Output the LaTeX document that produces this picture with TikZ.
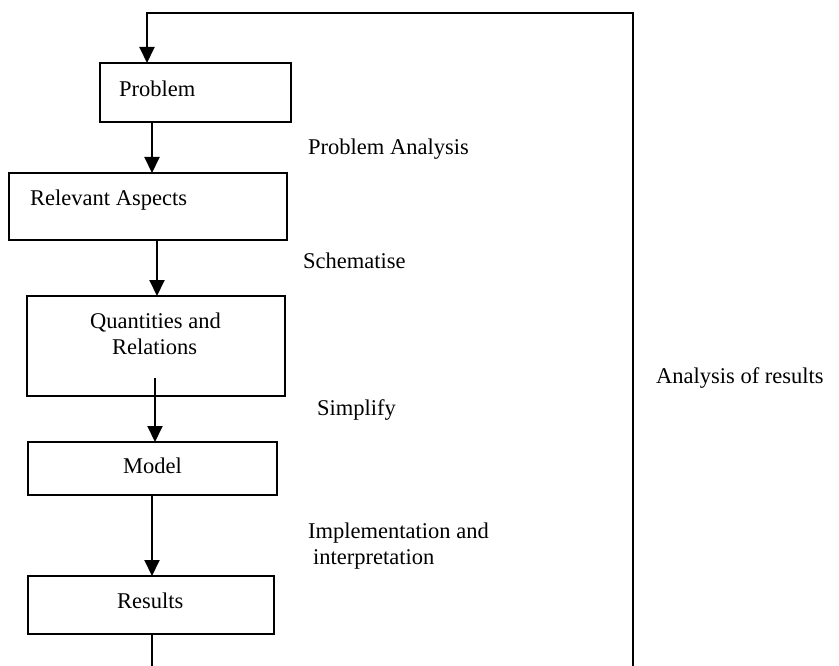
\documentclass[tikz,border=0pt]{standalone}
\usepackage{fontspec}
\setmainfont{Liberation Serif}
\usetikzlibrary{arrows.meta}
\begin{document}
\begin{tikzpicture}[x=1pt,y=-1pt,
  box/.style={draw,line width=2pt,inner sep=0pt,outer sep=0pt},
  txt/.style={anchor=base west,inner sep=0pt,font=\fontsize{22.5}{27}\selectfont},
  conn/.style={line width=2pt},
  arr/.style={line width=2pt,-{Triangle[width=15pt,length=16pt]}}]
\useasboundingbox (0,0) rectangle (839,666);
% boxes
\node[box,minimum width=191pt,minimum height=59pt] (pb) at (195.5,92.5) {};
\node[box,minimum width=278pt,minimum height=67pt] (ra) at (148,206.5) {};
\node[box,minimum width=258pt,minimum height=100pt] (qr) at (156,346) {};
\node[box,minimum width=249pt,minimum height=53pt] (md) at (152.5,468.5) {};
\node[box,minimum width=246pt,minimum height=58pt] (rs) at (151,605) {};
% box texts
\node[txt] (tpb) at (119,96.5) {Problem};
\node[txt] (tra) at (30,206) {Relevant Aspects};
\node[txt] (tqr1) at (90,328) {Quantities and};
\node[txt] (tqr2) at (112,354) {Relations};
\node[txt] (tmd) at (123,473.5) {Model};
\node[txt] (trs) at (117,608) {Results};
% labels
\node[txt] (lpa) at (308,155) {Problem Analysis};
\node[txt] (lsc) at (303,269) {Schematise};
\node[txt] (lsi) at (317,415.5) {Simplify};
\node[txt] (lim1) at (308,538) {Implementation and};
\node[txt] (lim2) at (313,564) {interpretation};
\node[txt] (lar) at (656,383) {Analysis of results};
% x positions
\coordinate (x1) at (152,0);
\coordinate (x2) at (157,0);
\coordinate (x4) at (152,0);
\coordinate (x0) at (147,0);
\coordinate (qstart) at (155,378);
\coordinate (bot) at (152,666);
\coordinate (rb) at (633,666);
\coordinate (rt) at (633,13);
\coordinate (lt) at (147,13);
% connectors
\draw[arr] (pb.south -| x1) -- (ra.north -| x1);
\draw[arr] (ra.south -| x2) -- (qr.north -| x2);
\draw[arr] (qstart) -- (md.north -| qstart);
\draw[arr] (md.south -| x4) -- (rs.north -| x4);
\draw[conn] (rs.south -| bot) -- (bot);
\draw[arr] (rb) -- (rt) -- (lt) -- (pb.north -| x0);
\end{tikzpicture}
\end{document}
